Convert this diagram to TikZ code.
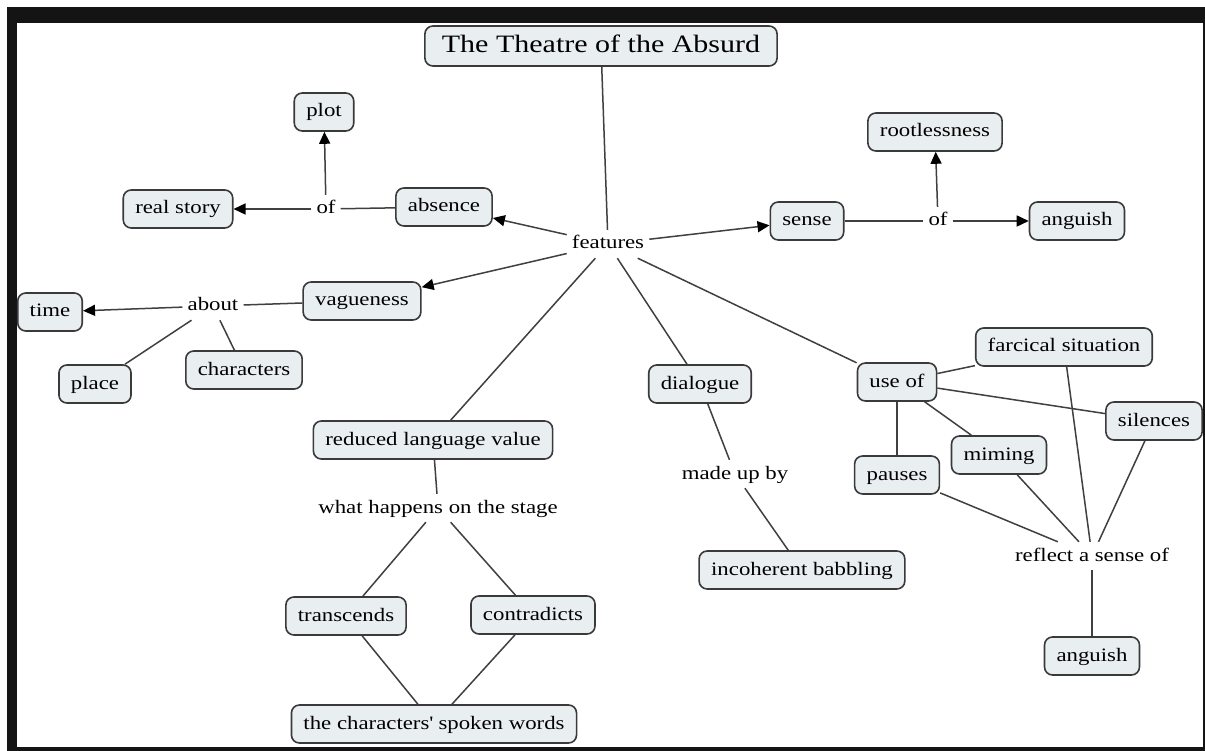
\documentclass[tikz,border=0pt]{standalone}
\usepackage{fontspec}
\setmainfont{Liberation Serif}[FakeStretch=1.2]
\usetikzlibrary{positioning, arrows.meta}

\definecolor{boxfill}{RGB}{233,238,240}
\definecolor{boxline}{RGB}{58,58,58}
\definecolor{linkline}{RGB}{64,64,64}

\begin{document}
\begin{tikzpicture}
    [x=1pt, y=-1pt,
    conceptnode/.style={rectangle, rounded corners=8pt, draw=boxline, fill=boxfill, line width=1.6pt,
        inner xsep=12pt, inner ysep=10pt, text height=14pt, text depth=4pt, font=\fontsize{19}{22}\selectfont},
    linknode/.style={inner sep=5pt, text height=14pt, text depth=4pt, font=\fontsize{19}{22}\selectfont},
    connect/.style={draw=linkline, line width=1.5pt},
    connectarrow/.style={connect, -{Triangle[length=12pt, width=11pt, color=black]}},]

    %Frame
    \useasboundingbox (0,0) rectangle (1205,751);
    \fill[white] (0,0) rectangle (1205,751);
    \fill[black!92] (7,7) rectangle (1205,751);
    \fill[white] (17,23) rectangle (1203,747);

    %Nodes
    \node[conceptnode, font=\fontsize{25}{28}\selectfont, text height=19pt, text depth=5pt, inner xsep=17pt, inner ysep=8pt](title) at (601,46){The Theatre of the Absurd};
    \node[linknode](features) at (608,244){features};

    \node[conceptnode](absence) at (444,207){absence};
    \node[linknode](ofa) at (326,209){of};
    \node[conceptnode](plot) at (324,112){plot};
    \node[conceptnode](story) at (178,209){real story};

    \node[conceptnode](sense) at (807,221){sense};
    \node[linknode](ofb) at (938,221){of};
    \node[conceptnode](rootless) at (935,132){rootlessness};
    \node[conceptnode](anguisha) at (1077,221){anguish};

    \node[conceptnode](vague) at (362,301){vagueness};
    \node[linknode](about) at (213,306){about};
    \node[conceptnode](time) at (50,312){time};
    \node[conceptnode](place) at (95,384){place};
    \node[conceptnode](chars) at (244,370){characters};

    \node[conceptnode](dialogue) at (700,384){dialogue};
    \node[linknode](madeup) at (735,474){made up by};
    \node[conceptnode](babbling) at (802,570){incoherent babbling};

    \node[conceptnode](useof) at (897,382){use of};
    \node[conceptnode](farcical) at (1064,347){farcical situation};
    \node[conceptnode](silences) at (1154,421){silences};
    \node[conceptnode](miming) at (999,455){miming};
    \node[conceptnode](pauses) at (897,475){pauses};
    \node[linknode](reflect) at (1092,556){reflect a sense of};
    \node[conceptnode](anguishb) at (1092,656){anguish};

    \node[conceptnode](reduced) at (433,440){reduced language value};
    \node[linknode](happens) at (438,508){what happens on the stage};
    \node[conceptnode](transcends) at (346,616){transcends};
    \node[conceptnode](contradicts) at (533,615){contradicts};
    \node[conceptnode](spoken) at (434,724){the characters\textquotesingle{} spoken words};

    %Lines
    \draw[connect](title)--(features);
    \draw[connectarrow](features)--(absence);
    \draw[connectarrow](features)--(sense);
    \draw[connectarrow](features)--(vague);
    \draw[connect](features)--(reduced);
    \draw[connect](features)--(dialogue);
    \draw[connect](features)--(useof);

    \draw[connect](absence)--(ofa);
    \draw[connectarrow](ofa)--(story);
    \draw[connectarrow](ofa)--(plot);

    \draw[connect](sense)--(ofb);
    \draw[connectarrow](ofb)--(anguisha);
    \draw[connectarrow](ofb)--(rootless);

    \draw[connect](vague)--(about);
    \draw[connectarrow](about)--(time);
    \draw[connect](about)--(place);
    \draw[connect](about)--(chars);

    \draw[connect](dialogue)--(madeup);
    \draw[connect](madeup)--(babbling);

    \draw[connect](useof)--(farcical);
    \draw[connect](useof)--(silences);
    \draw[connect](useof)--(miming);
    \draw[connect](useof)--(pauses);
    \draw[connect](farcical)--(reflect);
    \draw[connect](silences)--(reflect);
    \draw[connect](miming)--(reflect);
    \draw[connect](pauses)--(reflect);
    \draw[connect](reflect)--(anguishb);

    \draw[connect](reduced)--(happens);
    \draw[connect](happens)--(transcends);
    \draw[connect](happens)--(contradicts);
    \draw[connect](transcends)--(spoken);
    \draw[connect](contradicts)--(spoken);
\end{tikzpicture}
\end{document}
